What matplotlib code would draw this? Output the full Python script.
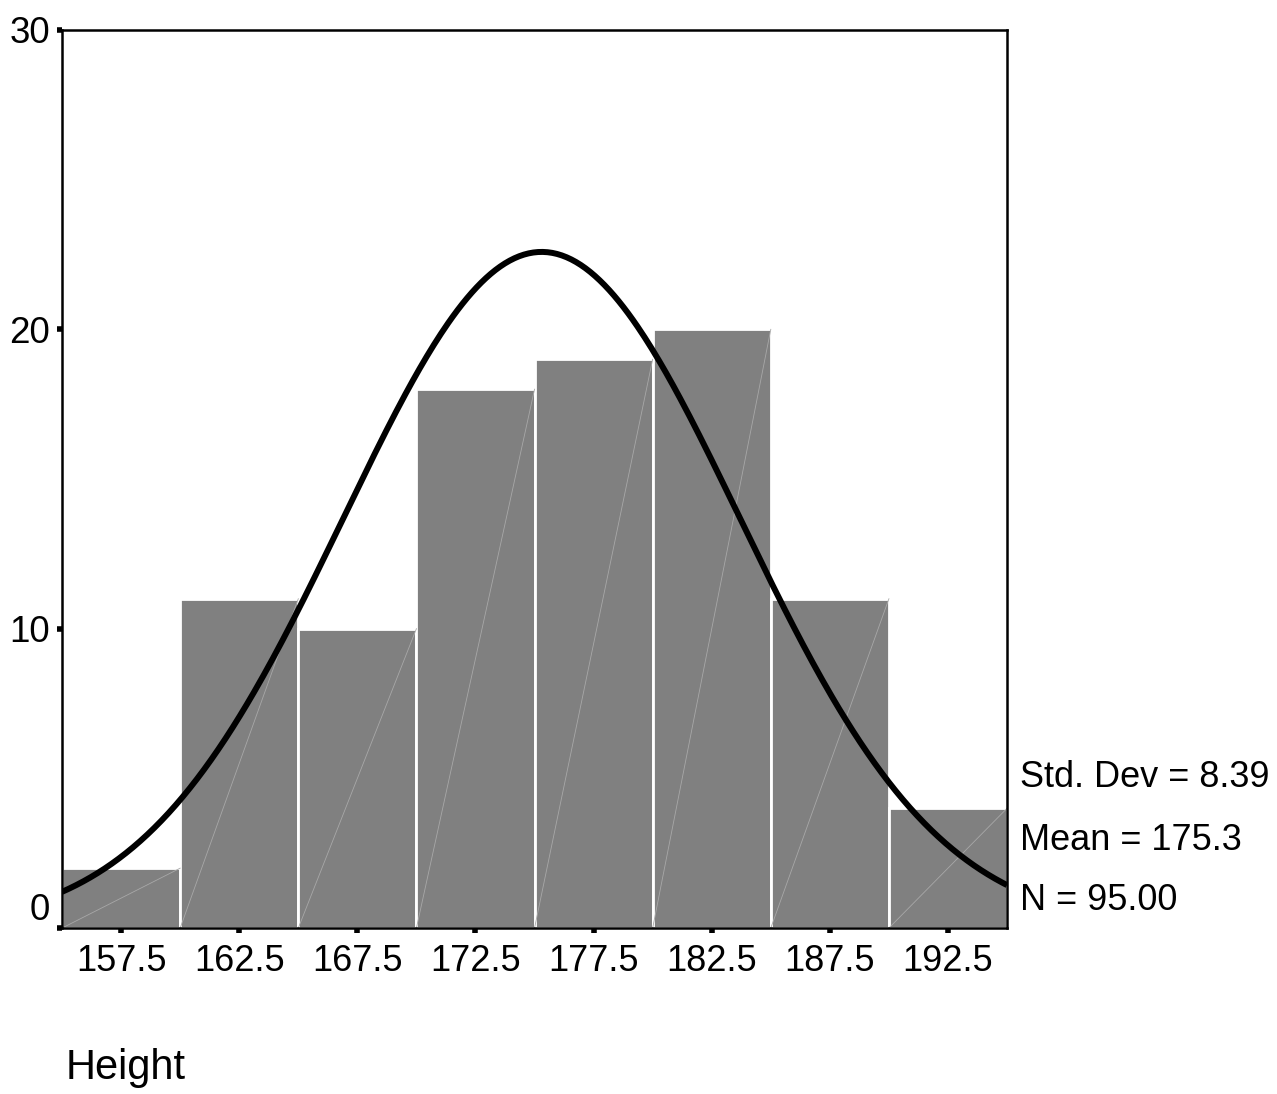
import matplotlib
matplotlib.use("Agg")
import matplotlib.pyplot as plt
import numpy as np

plt.rcParams["font.family"] = ["Liberation Sans", "DejaVu Sans"]

# histogram of Height (SPSS style), bins of width 5
bin_centers = [157.5, 162.5, 167.5, 172.5, 177.5, 182.5, 187.5, 192.5]
counts = [2, 11, 10, 18, 19, 20, 11, 4]
bin_width = 5.0
# fitted normal curve stats as printed on the chart
std_dev = 8.39
mean = 175.3
n_obs = 95

fig = plt.figure(figsize=(12.77, 10.94), dpi=100)
ax = fig.add_axes([0.0486, 0.1517, 0.74, 0.8209])

ax.bar(bin_centers, counts, width=bin_width, color="#808080",
       edgecolor="white", linewidth=2, zorder=2)
# faint diagonal seams inside each bar (rendering artefact of the original)
for c, h in zip(bin_centers, counts):
    ax.plot([c - bin_width / 2, c + bin_width / 2], [0, h],
            color="#a8a8a8", lw=0.6, zorder=3)

xs = np.linspace(155, 195, 400)
curve = n_obs * bin_width / (std_dev * np.sqrt(2 * np.pi)) * \
    np.exp(-0.5 * ((xs - mean) / std_dev) ** 2)
ax.plot(xs, curve, color="black", lw=4.3, zorder=4, solid_capstyle="butt")

ax.set_xlim(155, 195)
ax.set_ylim(0, 30)
ax.set_xticks(bin_centers)
ax.set_xticklabels([f"{c:.1f}" for c in bin_centers], fontsize=26)
ax.set_yticks([0, 10, 20, 30])
ax.set_yticklabels(["0", "10", "20", "30"], fontsize=26.5)
ax.tick_params(axis="both", direction="out", length=3.5, width=4,
               color="black")
ax.tick_params(axis="x", pad=8)
ax.tick_params(axis="y", pad=5)
# the "0" label sits a little above its tick in the original
ax.get_yticklabels()[0].set_verticalalignment("bottom")

for sp in ax.spines.values():
    sp.set_linewidth(1.8)
    sp.set_color("black")
    sp.set_zorder(5)

fig.text(0.799, 0.289, f"Std. Dev = {std_dev:.2f}", fontsize=26, va="center")
fig.text(0.799, 0.232, f"Mean = {mean:.1f}", fontsize=26, va="center")
fig.text(0.799, 0.177, f"N = {n_obs:.2f}", fontsize=26, va="center")
fig.text(0.051, 0.024, "Height", fontsize=30, va="center")

fig.savefig("out.png", dpi=100)
